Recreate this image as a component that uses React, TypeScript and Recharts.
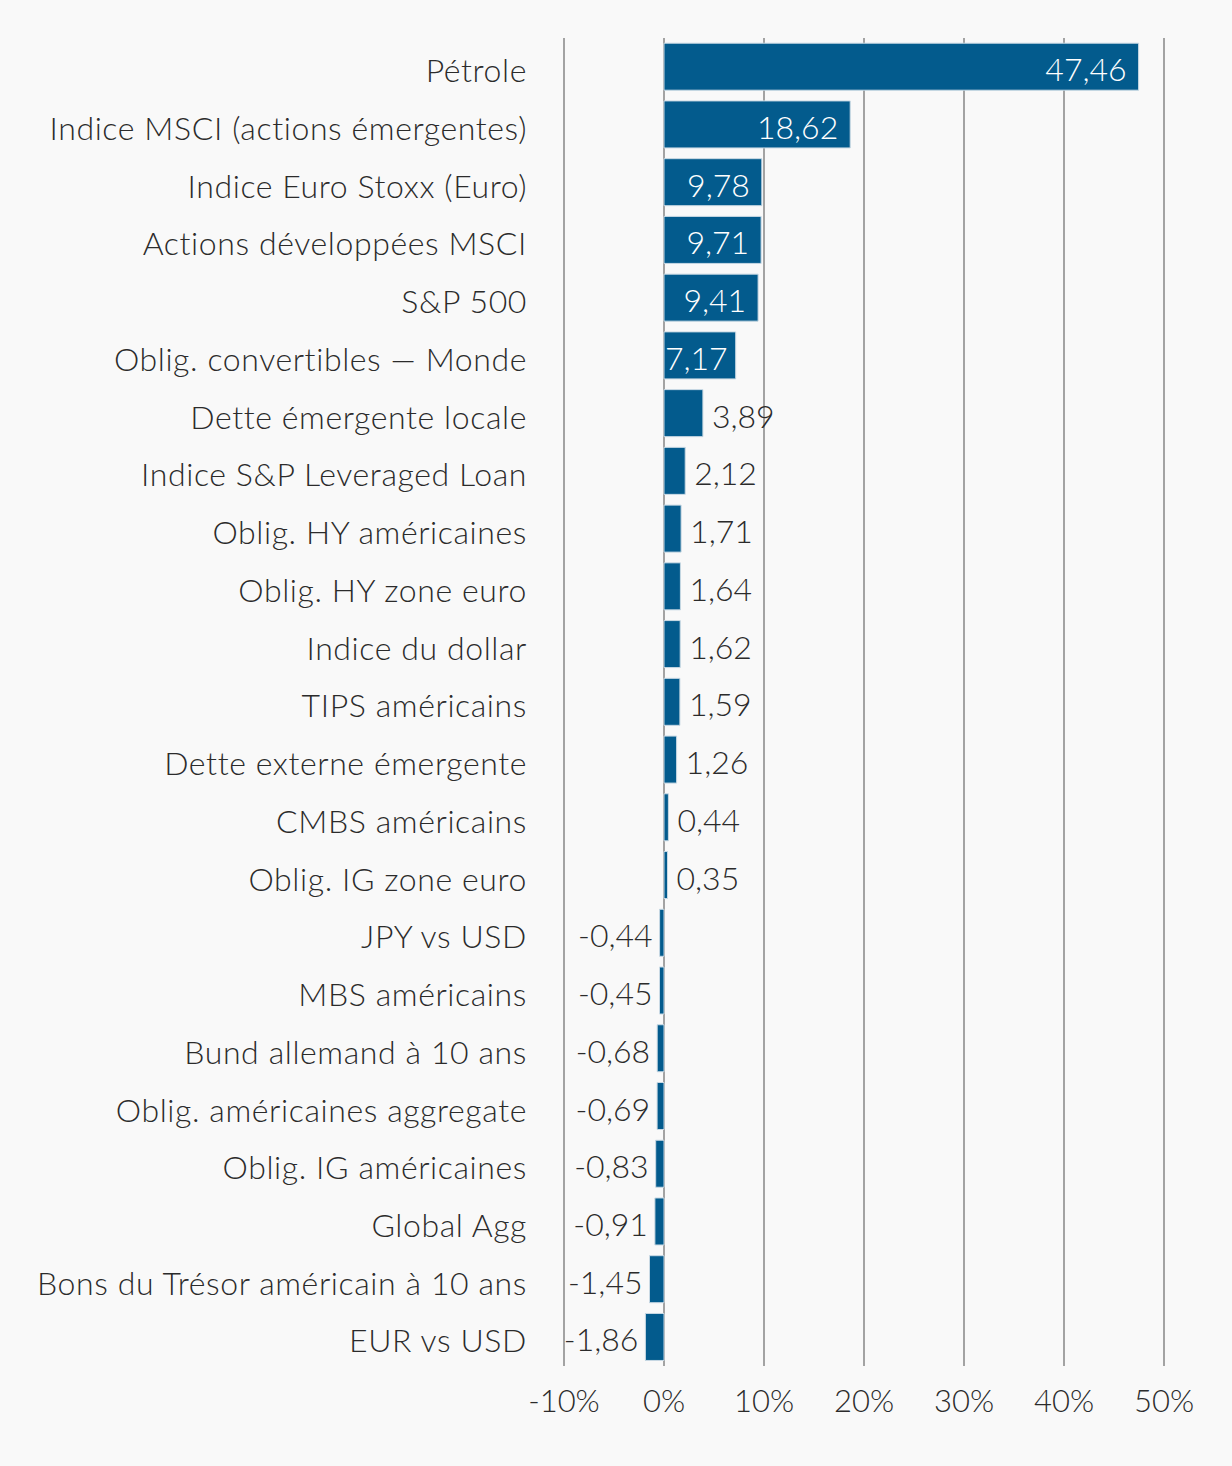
import React from 'react';
import { BarChart, Bar, XAxis, YAxis, CartesianGrid, LabelList } from 'recharts';

// Category labels, top to bottom
const categories = [
  'Pétrole',
  'Indice MSCI (actions émergentes)',
  'Indice Euro Stoxx (Euro)',
  'Actions développées MSCI',
  'S&P 500',
  'Oblig. convertibles — Monde',
  'Dette émergente locale',
  'Indice S&P Leveraged Loan',
  'Oblig. HY américaines',
  'Oblig. HY zone euro',
  'Indice du dollar',
  'TIPS américains',
  'Dette externe émergente',
  'CMBS américains',
  'Oblig. IG zone euro',
  'JPY vs USD',
  'MBS américains',
  'Bund allemand à 10 ans',
  'Oblig. américaines aggregate',
  'Oblig. IG américaines',
  'Global Agg',
  'Bons du Trésor américain à 10 ans',
  'EUR vs USD',
];

// Performance in %
const returns = [
  47.46, 18.62, 9.78, 9.71, 9.41, 7.17, 3.89, 2.12, 1.71, 1.64, 1.62, 1.59, 1.26,
  0.44, 0.35, -0.44, -0.45, -0.68, -0.69, -0.83, -0.91, -1.45, -1.86,
];

const xTicks = [-10, 0, 10, 20, 30, 40, 50];

const FONT = 'Lato, "Noto Sans", sans-serif';
const BAR_COLOR = '#035b8d';
const TEXT_COLOR = '#2b2b2b';

const data = categories.map((name, i) => ({ name, value: returns[i] }));

const fmt = (v: number) => v.toFixed(2).replace('.', ',');

// Value label: white inside long bars, dark outside short/negative ones
const ValueLabel = (props: any) => {
  const { x, y, width, height, value } = props;
  const left = Math.min(x, x + width);
  const right = Math.max(x, x + width);
  const cy = y + height / 2;
  let tx = right + 9;
  let anchor: 'start' | 'end' = 'start';
  let fill = TEXT_COLOR;
  if (value >= 5) {
    tx = right - (value < 8 ? 8 : 12);
    anchor = 'end';
    fill = '#ffffff';
  } else if (value < 0) {
    tx = left - 7;
    anchor = 'end';
  }
  return (
    <text
      x={tx}
      y={cy}
      dy={2}
      textAnchor={anchor}
      dominantBaseline="central"
      fontFamily={FONT}
      fontWeight={300}
      fontSize={32}
      fill={fill}
    >
      {fmt(value)}
    </text>
  );
};

export default function App() {
  return (
    <div
      style={{
        position: 'absolute',
        top: 0,
        left: 0,
        width: 1232,
        height: 1466,
        background: '#f9f9f9',
      }}
    >
      <BarChart
        width={1232}
        height={1466}
        data={data}
        layout="vertical"
        barCategoryGap="9%"
        margin={{ top: 38, right: 68, bottom: 40, left: 0 }}
      >
        <CartesianGrid horizontal={false} stroke="#a3a3a3" strokeWidth={2} />
        <XAxis
          type="number"
          domain={[-10, 50]}
          ticks={xTicks}
          tickFormatter={(v) => `${v}%`}
          axisLine={false}
          tickLine={false}
          tickSize={0}
          tickMargin={24}
          height={60}
          tick={{ fontFamily: FONT, fontWeight: 300, fontSize: 31, fill: TEXT_COLOR }}
        />
        <YAxis
          type="category"
          dataKey="name"
          width={564}
          axisLine={false}
          tickLine={false}
          tickSize={0}
          tickMargin={37}
          interval={0}
          tick={{
            fontFamily: FONT,
            fontWeight: 300,
            fontSize: 32,
            letterSpacing: 0.6,
            fill: TEXT_COLOR,
            dy: 4,
          }}
        />
        <Bar
          dataKey="value"
          fill={BAR_COLOR}
          stroke="#c9d9e4"
          strokeWidth={1}
          isAnimationActive={false}
        >
          <LabelList dataKey="value" content={ValueLabel} />
        </Bar>
      </BarChart>
    </div>
  );
}
